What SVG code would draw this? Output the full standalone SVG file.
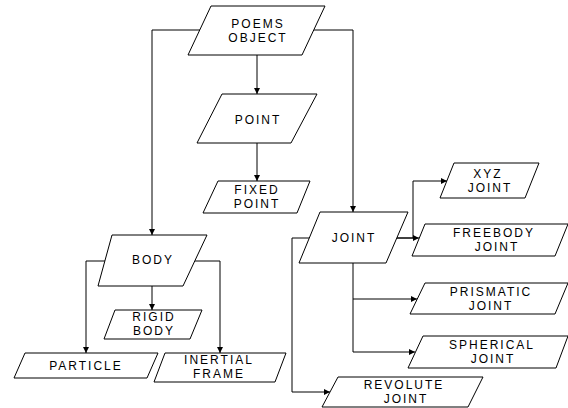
<svg xmlns="http://www.w3.org/2000/svg" width="568" height="408" viewBox="0 0 568 408">
  <style>
    .box { fill: #ffffff; stroke: #000000; stroke-width: 1; }
    .lbl { font-family: "Liberation Sans", Arial, sans-serif; font-size: 12px; letter-spacing: 2px; fill: #000000; text-anchor: middle; }
    .wire { fill: none; stroke: #000000; stroke-width: 1; marker-end: url(#tip); }
  </style>
  <defs>
    <marker id="tip" viewBox="0 0 10 10" refX="10" refY="5" markerWidth="6" markerHeight="6" markerUnits="userSpaceOnUse" orient="auto">
      <path d="M0,0 L10,5 L0,10 z" fill="#000000"/>
    </marker>
  </defs>
  <rect width="568" height="408" fill="#ffffff"/>

  <g id="connectors">
    <path class="wire" d="M257,55 V94"/>
    <path class="wire" d="M257,143 V181"/>
    <path class="wire" d="M200,30 H152 V235"/>
    <path class="wire" d="M314,30 H353 V212"/>
    <path class="wire" d="M152,286 V310"/>
    <path class="wire" d="M105,261 H86 V353"/>
    <path class="wire" d="M195,261 H220 V353"/>
    <path class="wire" d="M309,238 H292 V392 H330"/>
    <path class="wire" d="M397,238 H413 V181 H447"/>
    <path class="wire" d="M397,238 H419"/>
    <path class="wire" d="M353,263 V352 H415"/>
    <path class="wire" d="M353,299 H417"/>
  </g>

  <g id="poems-object">
    <polygon class="box" points="211,6 325,6 302,55 188,55"/>
    <text class="lbl" x="258" y="28">POEMS</text>
    <text class="lbl" x="258" y="42">OBJECT</text>
  </g>
  <g id="point">
    <polygon class="box" points="222,94 317,94 291,143 197,143"/>
    <text class="lbl" x="258" y="124">POINT</text>
  </g>
  <g id="fixed-point">
    <polygon class="box" points="218,181 310,181 297,213 203,213"/>
    <text class="lbl" x="257" y="194">FIXED</text>
    <text class="lbl" x="257" y="208">POINT</text>
  </g>
  <g id="body">
    <polygon class="box" points="112,235 207,235 183,286 98,286"/>
    <text class="lbl" x="153" y="264">BODY</text>
  </g>
  <g id="rigid-body">
    <polygon class="box" points="115,310 202,310 190,339 104,339"/>
    <text class="lbl" x="154" y="321">RIGID</text>
    <text class="lbl" x="154" y="335">BODY</text>
  </g>
  <g id="particle">
    <polygon class="box" points="25,353 158,353 147,378 14,378"/>
    <text class="lbl" x="86" y="370">PARTICLE</text>
  </g>
  <g id="inertial-frame">
    <polygon class="box" points="165,353 286,353 275,382 154,382"/>
    <text class="lbl" x="219" y="364">INERTIAL</text>
    <text class="lbl" x="219" y="378">FRAME</text>
  </g>
  <g id="joint">
    <polygon class="box" points="320,212 408,212 386,263 299,263"/>
    <text class="lbl" x="354" y="242">JOINT</text>
  </g>
  <g id="xyz-joint">
    <polygon class="box" points="454,163 539,163 525,198 440,198"/>
    <text class="lbl" x="488" y="178">XYZ</text>
    <text class="lbl" x="490" y="192">JOINT</text>
  </g>
  <g id="freebody-joint">
    <polygon class="box" points="425,224 568,224 555,256 412,256"/>
    <text class="lbl" x="494" y="237">FREEBODY</text>
    <text class="lbl" x="497" y="251">JOINT</text>
  </g>
  <g id="prismatic-joint">
    <polygon class="box" points="425,283 568,283 555,314 410,314"/>
    <text class="lbl" x="491" y="296">PRISMATIC</text>
    <text class="lbl" x="491" y="310">JOINT</text>
  </g>
  <g id="spherical-joint">
    <polygon class="box" points="423,336 568,336 556,368 408,368"/>
    <text class="lbl" x="492" y="349">SPHERICAL</text>
    <text class="lbl" x="493" y="363">JOINT</text>
  </g>
  <g id="revolute-joint">
    <polygon class="box" points="338,377 483,377 468,407 322,407"/>
    <text class="lbl" x="404" y="389">REVOLUTE</text>
    <text class="lbl" x="406" y="403">JOINT</text>
  </g>
</svg>
